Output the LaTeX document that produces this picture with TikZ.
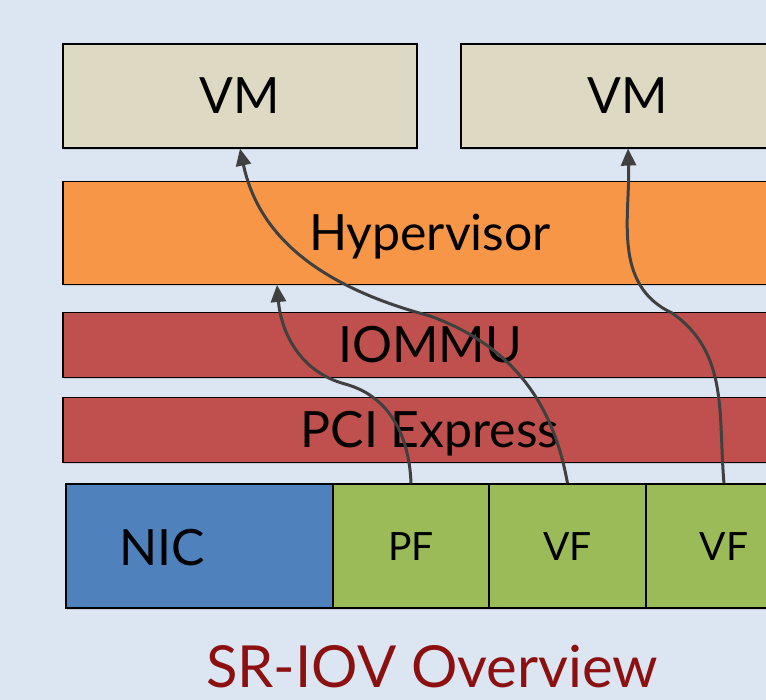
\documentclass[tikz,border=0pt]{standalone}
\usepackage{fontspec}
\setmainfont{Lato}
\usetikzlibrary{arrows.meta,shadows}

\definecolor{slidebg}{RGB}{220,230,242}
\definecolor{vmfill}{RGB}{221,217,195}
\definecolor{hypfill}{RGB}{247,150,70}
\definecolor{busfill}{RGB}{192,80,77}
\definecolor{nicfill}{RGB}{79,129,189}
\definecolor{fnfill}{RGB}{155,187,89}
\definecolor{flowgray}{RGB}{64,64,64}
\definecolor{titlered}{RGB}{140,16,16}

\tikzset{
  box/.style={draw=black, line width=1.2pt, rectangle, inner sep=0pt,
    drop shadow={opacity=0.25, shadow xshift=1pt, shadow yshift=-2pt}},
  bigtext/.style={font=\fontsize{50}{60}\selectfont, text height=36pt, text depth=0pt},
  vmbox/.style={box, bigtext, fill=vmfill, minimum height=104pt},
  layerbox/.style={box, bigtext, minimum width=734pt},
  fnbox/.style={box, fill=fnfill, minimum width=156pt, minimum height=124pt,
    font=\fontsize{39}{46}\selectfont, text height=28pt, text depth=0pt},
  flow/.style={draw=flowgray, line width=3pt,
    -{Triangle[length=17pt,width=15pt]}}
}

\begin{document}
\begin{tikzpicture}[x=1pt, y=-1pt]
\clip (0,0) rectangle (766,700);
\fill[slidebg] (0,0) rectangle (766,700);

  % virtual machines
  \node[vmbox, minimum width=354pt] (vmA) at (240,96) {VM};
  \node[vmbox, minimum width=334pt] (vmB) at (628,96) {VM};

  % host layers
  \node[layerbox, fill=hypfill, minimum height=103pt] (hyp) at (430,233) {Hypervisor};
  \node[layerbox, fill=busfill, minimum height=65pt] (iommu) at (430,345) {IOMMU};
  \node[layerbox, fill=busfill, minimum height=65pt] (pci) at (430,430) {PCI Express};

  % adapter
  \node[box, fill=nicfill, minimum width=267pt, minimum height=124pt] (nic) at (199.5,546) {};
  \node[bigtext] (niclabel) at (162,547) {NIC};
  \node[fnbox] (pf) at (411,546) {PF};
  \node[fnbox, minimum width=157pt] (vfA) at (567.5,546) {VF};
  \node[fnbox] (vfB) at (724,546) {VF};

  \coordinate (hypin) at (277,285);
  \coordinate (kinkA) at (345,384);
  \coordinate (kinkB) at (430,316);
  \coordinate (kinkC) at (672,313);

  \draw[flow] (pf.north) to[out=92, in=-15] (kinkA) to[out=165, in=-85] (hypin); % PF -> hypervisor
  \draw[flow] (vfA.north) to[out=100, in=-20] (kinkB) to[out=165, in=-78] (vmA.south); % VF -> VM
  \draw[flow] (vfB.north) to[out=95, in=-35] (kinkC) to[out=155, in=-88] (vmB.south); % VF -> VM

  \node[anchor=base, inner sep=0pt, text depth=0pt, text=titlered,
    font=\fontsize{58}{68}\selectfont] (title) at (432,687) {SR-IOV Overview};
\end{tikzpicture}
\end{document}
